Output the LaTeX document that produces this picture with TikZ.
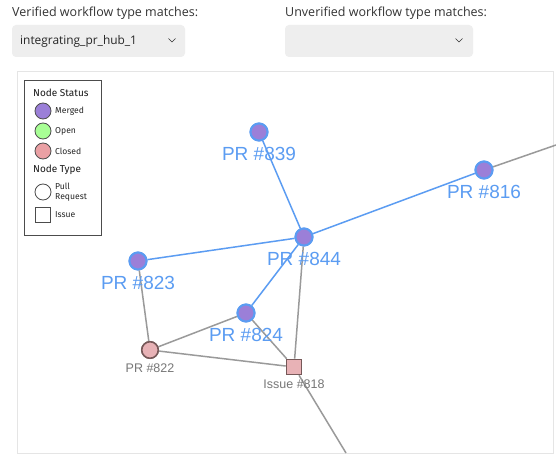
\documentclass[tikz,border=0pt]{standalone}
\usepackage{fontspec}
\setmainfont{Liberation Sans}
\newfontfamily\uifont{Open Sans}
\newfontfamily\legfont{Fira Sans}
\definecolor{prblue}{HTML}{5B9CF2}
\definecolor{merged}{HTML}{9B7FD8}
\definecolor{edgegrey}{HTML}{9A9A9A}
\definecolor{closedfill}{HTML}{E8B2B6}
\definecolor{closedline}{HTML}{765858}
\definecolor{ddfill}{HTML}{EEEEEE}
\definecolor{uitext}{HTML}{333333}
\definecolor{lbgrey}{HTML}{777777}
\begin{document}
\begin{tikzpicture}[x=1pt,y=-1pt,
  mergednode/.style={circle,fill=merged,draw=prblue,line width=2pt,minimum size=17pt,inner sep=0pt},
  closednode/.style={circle,fill=closedfill,draw=closedline,line width=1.5pt,minimum size=16.5pt,inner sep=0pt},
  issuenode/.style={rectangle,fill=closedfill,draw=closedline,line width=1.6pt,minimum size=15pt,inner sep=0pt},
  biglabel/.style={text=prblue,font=\fontsize{19}{19}\selectfont,inner sep=0pt},
  smalllabel/.style={text=lbgrey,font=\fontsize{12.5}{13}\selectfont,inner sep=0pt},
  blueedge/.style={draw=prblue,line width=1.5pt},
  greyedge/.style={draw=edgegrey,line width=1.5pt},
  uilabel/.style={text=uitext,font=\uifont\fontsize{12.5}{15}\selectfont,anchor=west,inner sep=0pt},
  legtext/.style={font=\legfont\fontsize{8.6}{9.6}\selectfont,anchor=west,inner sep=0pt,text=black!85},
  leghead/.style={font=\legfont\fontsize{10}{11}\selectfont,anchor=west,inner sep=0pt,text=black!90},
  legsw/.style={circle,minimum size=16pt,inner sep=0pt,draw=black!70,line width=0.8pt}
]
\useasboundingbox (0,0) rectangle (556,454);
\fill[white] (0,0) rectangle (556,454);
% top UI
\node[uilabel] (vlab) at (12,13) {Verified workflow type matches:};
\node[uilabel] (ulab) at (285,13) {Unverified workflow type matches:};
\fill[ddfill,rounded corners=4pt] (12,25) rectangle (185,57);
\fill[ddfill,rounded corners=4pt] (285,25) rectangle (473,57);
\node[uilabel,text=black!85,font=\uifont\fontsize{11.9}{14}\selectfont] (vsel) at (20,41.5) {integrating\_pr\_hub\_1};
\draw[uitext,line width=0.6pt] (168.5,38.5) -- (172,42) -- (175.5,38.5);
\draw[uitext,line width=0.6pt] (455.5,38.5) -- (459,42) -- (462.5,38.5);
% graph frame
\draw[black!10,line width=1pt] (17,72) rectangle (553,453);
% coordinates off-frame
\coordinate (endR) at (556,145);
\coordinate (endB) at (346,453);
% nodes
\node[mergednode] (n839) at (259,132) {};
\node[mergednode] (n816) at (484,170) {};
\node[mergednode] (n844) at (304,237) {};
\node[mergednode] (n823) at (138,261) {};
\node[mergednode] (n824) at (246,313) {};
\node[closednode] (n822) at (150,350) {};
\node[issuenode] (n818) at (294,367) {};
% edges
\draw[greyedge] (n816) -- (endR);
\draw[greyedge] (n818) -- (endB);
\draw[greyedge] (n823) -- (n822);
\draw[greyedge] (n822) -- (n824);
\draw[greyedge] (n822) -- (n818);
\draw[greyedge] (n824) -- (n818);
\draw[greyedge] (n844) -- (n818);
\draw[blueedge] (n839) -- (n844);
\draw[blueedge] (n844) -- (n816);
\draw[blueedge] (n823) -- (n844);
\draw[blueedge] (n824) -- (n844);
% redraw nodes on top
\node[mergednode] at (n839) {};
\node[mergednode] at (n816) {};
\node[mergednode] at (n844) {};
\node[mergednode] at (n823) {};
\node[mergednode] at (n824) {};
\node[closednode] at (n822) {};
\node[issuenode] at (n818) {};
% labels
\node[biglabel] (l839) at (259,154) {PR \#839};
\node[biglabel] (l816) at (484,192) {PR \#816};
\node[biglabel] (l844) at (304,259) {PR \#844};
\node[biglabel] (l823) at (138,283) {PR \#823};
\node[biglabel] (l824) at (246,335) {PR \#824};
\node[smalllabel] (l822) at (150,368) {PR \#822};
\node[smalllabel] (l818) at (294,384) {Issue \#818};
% legend
\draw[black!70,line width=0.8pt,fill=white] (24,80) rectangle (101,235);
\node[leghead] (lgs) at (33,93) {Node Status};
\node[legsw,fill=merged] (sw1) at (43,111) {};
\node[legtext] (lt1) at (55,111) {Merged};
\node[legsw,fill=green!35!white!90!lime] (sw2) at (43,131) {};
\node[legtext] (lt2) at (55,131) {Open};
\node[legsw,fill=closedfill!90!red] (sw3) at (43,151) {};
\node[legtext] (lt3) at (55,151) {Closed};
\node[leghead] (lgt) at (33,170) {Node Type};
\node[legsw,fill=white] (sw4) at (43,192) {};
\node[legtext,align=left] (lt4) at (55,192) {Pull\\Request};
\node[rectangle,draw=black!70,line width=0.8pt,minimum size=15pt,inner sep=0pt] (sw5) at (43,215) {};
\node[legtext] (lt5) at (55,215) {Issue};
\end{tikzpicture}
\end{document}
